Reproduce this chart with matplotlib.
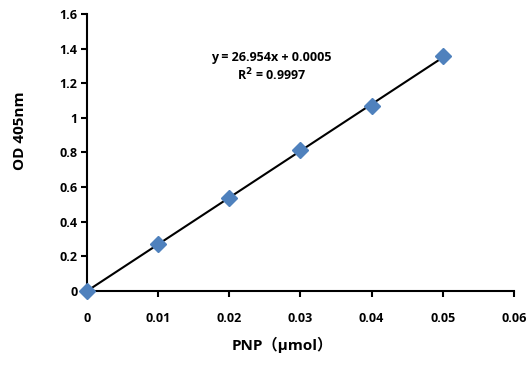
import numpy as np
import matplotlib
matplotlib.use('Agg')
import matplotlib.pyplot as plt

plt.rcParams['font.family'] = ['Open Sans', 'Noto Sans CJK SC', 'DejaVu Sans']
plt.rcParams['font.weight'] = 'bold'

# standard curve data
pnp = [0, 0.01, 0.02, 0.03, 0.04, 0.05]
od = [0, 0.27, 0.54, 0.815, 1.07, 1.36]
slope = 26.954
intercept = 0.0005

fig = plt.figure(figsize=(5.28, 3.67), dpi=100)
ax = fig.add_axes([0.165, 0.207, 0.808, 0.755])

xfit = np.array([pnp[0], pnp[-1]])
ax.plot(xfit, slope * xfit + intercept, color='black', lw=1.5, zorder=2)
ax.plot(pnp, od, linestyle='none', marker='D', ms=8.5, color='#4F81BD',
        markeredgecolor='#4F81BD', zorder=3, clip_on=False)

ax.set_xlim(0, 0.06)
ax.set_ylim(0, 1.6)
ax.set_xticks([0, 0.01, 0.02, 0.03, 0.04, 0.05, 0.06])
ax.set_xticklabels(['0', '0.01', '0.02', '0.03', '0.04', '0.05', '0.06'])
ax.set_yticks([0, 0.2, 0.4, 0.6, 0.8, 1.0, 1.2, 1.4, 1.6])
ax.set_yticklabels(['0', '0.2', '0.4', '0.6', '0.8', '1', '1.2', '1.4', '1.6'])

for s in ['top', 'right']:
    ax.spines[s].set_visible(False)
for s in ['left', 'bottom']:
    ax.spines[s].set_linewidth(1.5)
ax.tick_params(direction='out', width=1.5, length=4, labelsize=9, pad=3)
ax.tick_params(axis='x', pad=11)

ax.set_xlabel('PNP（μmol）', fontsize=11, fontweight='bold')
ax.set_ylabel('OD 405nm', fontsize=11, fontweight='bold')
ax.xaxis.set_label_coords(0.457, -0.165)
ax.yaxis.set_label_coords(-0.14, 0.58)

ax.text(0.0259, 1.35, 'y = 26.954x + 0.0005', fontsize=9, ha='center', va='center')
ax.text(0.0259, 1.25, 'R$^2$ = 0.9997', fontsize=9, ha='center', va='center')

fig.savefig('out.png', dpi=100)
